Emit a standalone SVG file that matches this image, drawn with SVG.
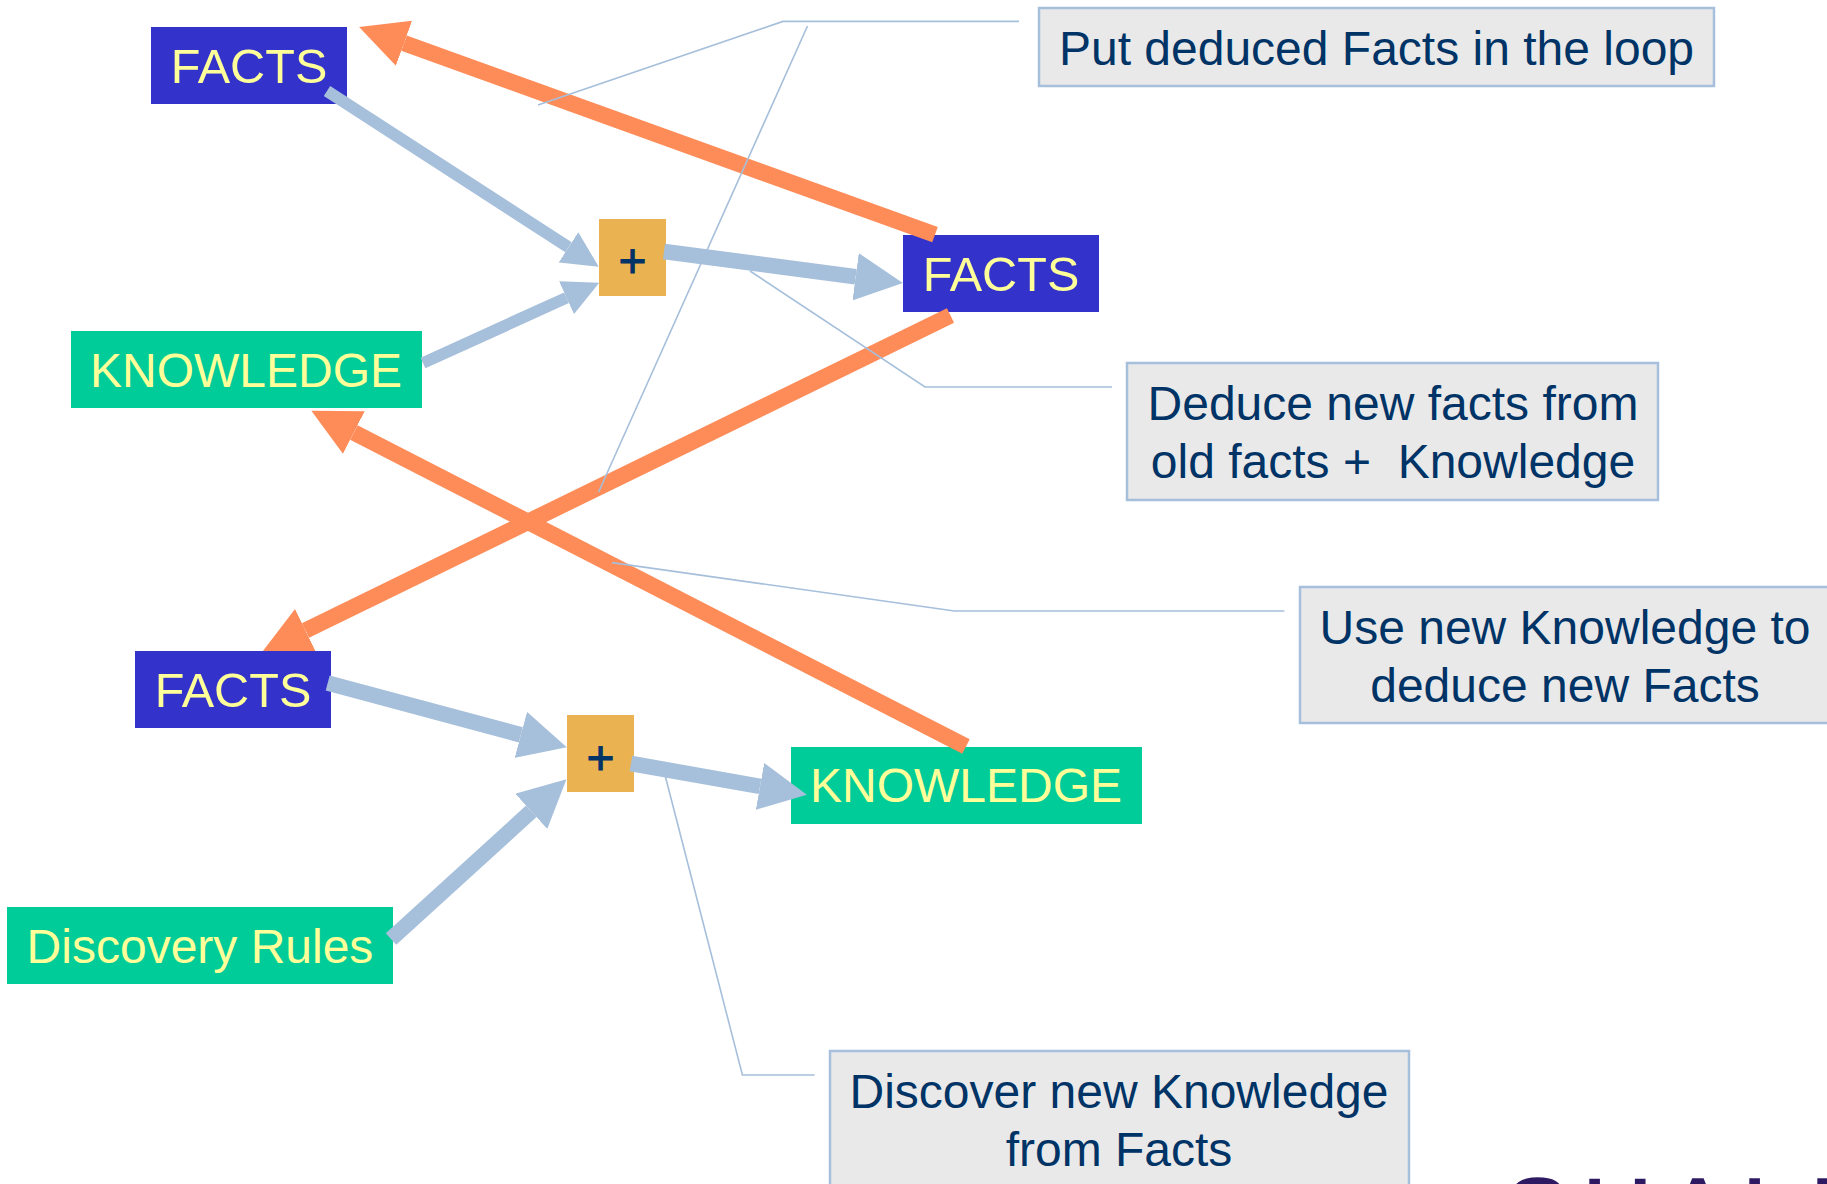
<svg xmlns="http://www.w3.org/2000/svg" width="1827" height="1184" viewBox="0 0 1827 1184">
<style>
text{font-family:"Liberation Sans",Arial,sans-serif;font-size:48px;text-anchor:middle;white-space:pre}
.f rect{fill:#3333cc}.k rect{fill:#00cc99}.f text,.k text{fill:#ffff99}
.f text{font-size:48.6px}
.p rect{fill:#eab251}.p text,.c text{fill:#003366}
.p text{stroke:#003366;stroke-width:.9}
.c rect{fill:#e9e9e9;stroke:#a6bfdb;stroke-width:2.5}
.b{stroke:#a6bfdb;fill:none;stroke-width:15.6;marker-end:url(#hb)}
.t{stroke:#a6bfdb;fill:none;stroke-width:11.8;marker-end:url(#hb)}
.o{stroke:#fe8c58;fill:none;stroke-width:16.3;marker-end:url(#ho)}
.l{stroke:#a6bfdb;fill:none;stroke-width:1.6}
.logo{fill:#2e1a63;stroke:#2e1a63;stroke-width:1.5;font-size:98px;text-anchor:start}
</style>
<defs>
<marker id="hb" viewBox="0 0 3.05 3.05" refX="0" refY="1.525" markerWidth="3.05" markerHeight="3.05" orient="auto"><path d="M0 0L3.05 1.525L0 3.05Z" fill="#a6bfdb"/></marker>
<marker id="ho" viewBox="0 0 2.93 2.93" refX="0" refY="1.465" markerWidth="2.93" markerHeight="2.93" orient="auto"><path d="M0 0L2.93 1.465L0 2.93Z" fill="#fe8c58"/></marker>
<clipPath id="above"><rect x="0" y="0" width="1827" height="651"/></clipPath>
</defs>
<rect width="1827" height="1184" fill="#fff"/>
<g id="facts1" class="f"><rect x="151" y="27" width="196" height="77"/><text x="249" y="83">FACTS</text></g>
<g id="knowledge1" class="k"><rect x="71" y="331" width="351" height="77"/><text x="246" y="386.5">KNOWLEDGE</text></g>
<g id="plus1" class="p"><rect x="599" y="219" width="67" height="77"/><text x="632.5" y="277">+</text></g>
<g id="facts2" class="f"><rect x="903" y="235" width="196" height="77"/><text x="1001" y="291">FACTS</text></g>
<g id="facts3" class="f"><rect x="135" y="651" width="196" height="77"/><text x="233" y="707">FACTS</text></g>
<g id="plus2" class="p"><rect x="567" y="715" width="67" height="77"/><text x="600.5" y="773.5">+</text></g>
<g id="knowledge2" class="k"><rect x="791" y="747" width="351" height="77"/><text x="966" y="802">KNOWLEDGE</text></g>
<g id="discovery" class="k"><rect x="7" y="907" width="386" height="77"/><text x="200" y="963">Discovery Rules</text></g>
<g id="note1" class="c"><rect x="1039" y="8" width="675" height="78"/><text x="1376.5" y="65">Put deduced Facts in the loop</text></g>
<g id="note2" class="c"><rect x="1127" y="363" width="531" height="137"/><text x="1393" y="420">Deduce new facts from</text><text x="1393" y="478">old facts +  Knowledge</text></g>
<g id="note3" class="c"><rect x="1300" y="587" width="540" height="136"/><text x="1565" y="644">Use new Knowledge to</text><text x="1565" y="702">deduce new Facts</text></g>
<g id="note4" class="c"><rect x="830" y="1051" width="579" height="160"/><text x="1119" y="1108">Discover new Knowledge</text><text x="1119" y="1166">from Facts</text></g>
<text id="logo" class="logo" x="1504.5 1582 1665 1742 1810" y="1247">SHALL</text>
<g id="connectors">
<path class="t" d="M327 91L568.5 247.25"/>
<path class="t" d="M423 363L566.5 297.75"/>
<path class="b" d="M664 251.4L855.65 276.7"/>
<path class="b" d="M327.7 683L520.85 734.85"/>
<path class="b" d="M391 939L531.25 811.35"/>
<path class="b" d="M631 763.5L760 786.35"/>
<path class="o" d="M935 234.6L404 43.2"/>
<path class="o" clip-path="url(#above)" d="M950.5 315.5L305.5 630.5"/>
<path class="o" d="M966 746.5L353.85 432.5"/>
<path class="l" d="M538 105L783 21.4H1019"/>
<path class="l" d="M807.5 26L598.6 492"/>
<path class="l" d="M750 271L925 387H1112"/>
<path class="l" d="M612 562.6L954.4 611H1284.4"/>
<path class="l" d="M665.5 777L742.4 1075H814.6"/>
</g>
</svg>
